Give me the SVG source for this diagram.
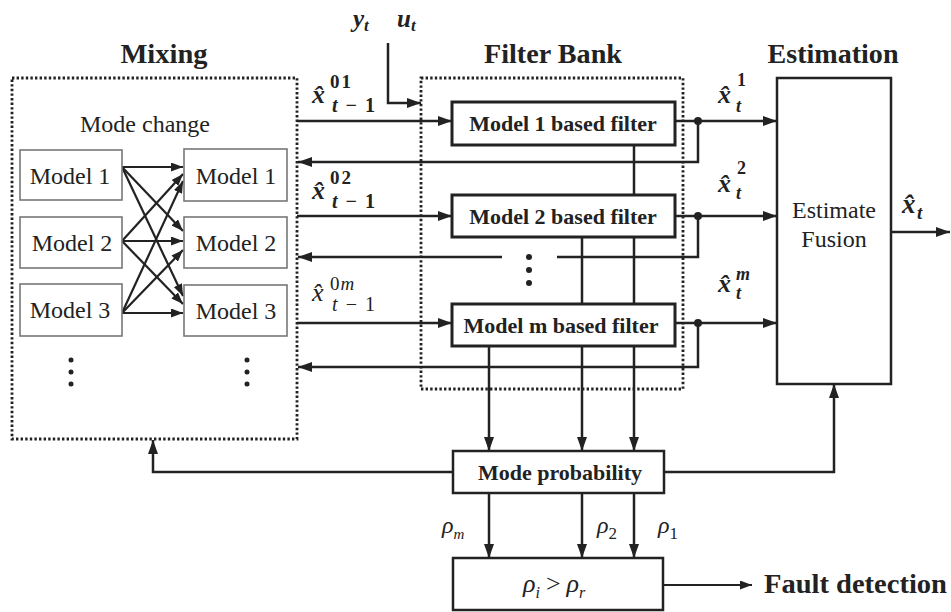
<svg xmlns="http://www.w3.org/2000/svg" width="951" height="612" viewBox="0 0 951 612">
<defs>
<style>
.ln{stroke:#222;stroke-width:2.5;fill:none}
.thin{stroke:#222;stroke-width:2.2;fill:none}
.dot{stroke:#222;stroke-width:2.8;fill:none;stroke-dasharray:2.4 2.2}
.mbox{fill:#fff;stroke:#777;stroke-width:1.6}
.fbox{fill:#fff;stroke:#222;stroke-width:3}
.bbox{fill:#fff;stroke:#222;stroke-width:2.5}
.t{font-family:'Liberation Serif','DejaVu Serif',serif;fill:#222}
.title{font-size:27px;font-weight:bold;text-anchor:middle}
.reg{font-size:24px}
.bold22{font-size:22px;font-weight:bold;text-anchor:middle}
.mi{font-style:italic}
.mb{font-style:italic;font-weight:bold}
.jd{fill:#222}
</style>
<marker id="ah" viewBox="0 0 14 10" refX="14" refY="5" markerWidth="14" markerHeight="10" markerUnits="userSpaceOnUse" orient="auto">
<path d="M0,0 L14,5 L0,10 z" fill="#222"/>
</marker>
<marker id="ahs" viewBox="0 0 12 9" refX="12" refY="4.5" markerWidth="12" markerHeight="9" markerUnits="userSpaceOnUse" orient="auto">
<path d="M0,0 L12,4.5 L0,9 z" fill="#222"/>
</marker>
</defs>
<rect width="951" height="612" fill="#fff"/>

<g id="mixing">
<rect class="dot" x="12" y="78" width="285" height="361"/>
<text class="t title" x="164" y="63" textLength="87" lengthAdjust="spacingAndGlyphs">Mixing</text>
<text class="t reg" x="80" y="132">Mode change</text>
</g>
<g id="filterbank">
<rect class="dot" x="421" y="78" width="262" height="311"/>
<text class="t title" x="553" y="63" textLength="138" lengthAdjust="spacingAndGlyphs">Filter Bank</text>
</g>
<text class="t title" x="833" y="63" textLength="131" lengthAdjust="spacingAndGlyphs">Estimation</text>

<g id="connectors">
<g class="thin" marker-end="url(#ahs)">
<line x1="122" y1="167" x2="183" y2="167"/>
<line x1="122" y1="167" x2="183" y2="231"/>
<line x1="122" y1="167" x2="183" y2="296"/>
<line x1="122" y1="241" x2="183" y2="174"/>
<line x1="122" y1="241" x2="183" y2="241"/>
<line x1="122" y1="241" x2="183" y2="304"/>
<line x1="122" y1="313" x2="183" y2="181"/>
<line x1="122" y1="313" x2="183" y2="250"/>
<line x1="122" y1="313" x2="183" y2="313"/>
</g>
<polyline class="ln" points="388,43 388,103 421,103" marker-end="url(#ah)"/>
<line class="ln" x1="297" y1="121" x2="452" y2="121" marker-end="url(#ah)"/>
<line class="ln" x1="297" y1="216" x2="452" y2="216" marker-end="url(#ah)"/>
<line class="ln" x1="297" y1="323" x2="452" y2="323" marker-end="url(#ah)"/>
<line class="ln" x1="675" y1="121" x2="777" y2="121" marker-end="url(#ah)"/>
<line class="ln" x1="675" y1="216" x2="777" y2="216" marker-end="url(#ah)"/>
<line class="ln" x1="675" y1="323" x2="777" y2="323" marker-end="url(#ah)"/>
<polyline class="ln" points="698,121 698,162 298,162" marker-end="url(#ah)"/>
<polyline class="ln" points="698,216 698,257 557,257"/>
<line class="ln" x1="502" y1="257" x2="298" y2="257" marker-end="url(#ah)"/>
<polyline class="ln" points="698,323 698,367 298,367" marker-end="url(#ah)"/>
<circle class="jd" cx="698" cy="121" r="4"/>
<circle class="jd" cx="698" cy="216" r="4"/>
<circle class="jd" cx="698" cy="323" r="4"/>
<line class="ln" x1="634" y1="145" x2="634" y2="451" marker-end="url(#ah)"/>
<line class="ln" x1="582" y1="237" x2="582" y2="451" marker-end="url(#ah)"/>
<line class="ln" x1="489" y1="346" x2="489" y2="451" marker-end="url(#ah)"/>
<polyline class="ln" points="453,472 153,472 153,440" marker-end="url(#ah)"/>
<polyline class="ln" points="664,472 834,472 834,384" marker-end="url(#ah)"/>
<line class="ln" x1="489" y1="493" x2="489" y2="558" marker-end="url(#ah)"/>
<line class="ln" x1="582" y1="493" x2="582" y2="558" marker-end="url(#ah)"/>
<line class="ln" x1="634" y1="493" x2="634" y2="558" marker-end="url(#ah)"/>
<line class="ln" x1="891" y1="232" x2="950" y2="232" marker-end="url(#ah)"/>
<line class="thin" x1="663" y1="585" x2="752" y2="585" marker-end="url(#ahs)"/>
</g>

<g class="jd">
<circle cx="71" cy="360" r="2.5"/><circle cx="71" cy="372" r="2.5"/><circle cx="71" cy="384" r="2.5"/>
<circle cx="247" cy="360" r="2.5"/><circle cx="247" cy="372" r="2.5"/><circle cx="247" cy="384" r="2.5"/>
<circle cx="529" cy="257" r="3"/><circle cx="529" cy="270" r="3"/><circle cx="529" cy="283" r="3"/>
</g>

<g id="mix-l1"><rect class="mbox" x="20" y="150" width="102" height="50"/><text class="t reg" x="70" y="184" text-anchor="middle">Model 1</text></g>
<g id="mix-l2"><rect class="mbox" x="20" y="217" width="102" height="51"/><text class="t reg" x="72" y="251" text-anchor="middle">Model 2</text></g>
<g id="mix-l3"><rect class="mbox" x="20" y="284" width="102" height="52"/><text class="t reg" x="70" y="318" text-anchor="middle">Model 3</text></g>
<g id="mix-r1"><rect class="mbox" x="184" y="149" width="103" height="52"/><text class="t reg" x="236" y="184" text-anchor="middle">Model 1</text></g>
<g id="mix-r2"><rect class="mbox" x="184" y="217" width="103" height="51"/><text class="t reg" x="236" y="251" text-anchor="middle">Model 2</text></g>
<g id="mix-r3"><rect class="mbox" x="184" y="285" width="103" height="51"/><text class="t reg" x="236" y="319" text-anchor="middle">Model 3</text></g>

<g id="filter1"><rect class="fbox" x="452" y="102" width="223" height="43"/><text class="t bold22" x="563" y="131">Model 1 based filter</text></g>
<g id="filter2"><rect class="fbox" x="452" y="195" width="223" height="42"/><text class="t bold22" x="563" y="224">Model 2 based filter</text></g>
<g id="filterm"><rect class="fbox" x="452" y="304" width="223" height="42"/><text class="t bold22" x="561" y="333">Model m based filter</text></g>

<g id="estimate">
<rect class="bbox" x="777" y="78" width="114" height="306"/>
<text class="t reg" x="834" y="218" text-anchor="middle">Estimate</text>
<text class="t reg" x="834" y="247" text-anchor="middle">Fusion</text>
</g>

<g id="modeprob">
<rect class="bbox" x="453" y="451" width="211" height="42"/>
<text class="t bold22" x="560" y="480">Mode probability</text>
</g>

<g id="threshold">
<rect class="bbox" x="453" y="558" width="210" height="52"/>
<text class="t mi" x="523" y="592" font-size="26">ρ<tspan font-size="16" dy="6">i</tspan><tspan font-style="normal" dy="-6" dx="6">&gt;</tspan><tspan dx="6">ρ</tspan><tspan font-size="16" dy="6">r</tspan></text>
</g>
<g id="fault">
<text class="t" x="764" y="593" font-size="27" font-weight="bold" textLength="183" lengthAdjust="spacingAndGlyphs">Fault detection</text>
</g>

<g id="labels">
<text class="t mb" x="353" y="27" font-size="25">y<tspan font-size="17" dy="4">t</tspan></text>
<text class="t mb" x="397" y="27" font-size="25">u<tspan font-size="17" dy="4">t</tspan></text>

<text class="t mb" x="312" y="103" font-size="26">x̂</text>
<text class="t" x="330" y="88" font-size="19" font-weight="bold" letter-spacing="2">01</text>
<text class="t mb" x="332" y="112" font-size="20" textLength="43" lengthAdjust="spacing">t<tspan font-style="normal">−1</tspan></text>

<text class="t mb" x="312" y="199" font-size="26">x̂</text>
<text class="t" x="330" y="184" font-size="19" font-weight="bold" letter-spacing="2">02</text>
<text class="t mb" x="332" y="208" font-size="20" textLength="43" lengthAdjust="spacing">t<tspan font-style="normal">−1</tspan></text>

<text class="t mi" x="312" y="301" font-size="26">x̂</text>
<text class="t" x="330" y="290" font-size="19" letter-spacing="1">0<tspan font-style="italic">m</tspan></text>
<text class="t mi" x="332" y="311" font-size="20" textLength="43" lengthAdjust="spacing">t<tspan font-style="normal">−1</tspan></text>

<text class="t mb" x="718" y="103" font-size="26">x̂</text>
<text class="t" x="737" y="86" font-size="18" font-weight="bold">1</text>
<text class="t mb" x="736" y="112" font-size="18">t</text>

<text class="t mb" x="718" y="192" font-size="26">x̂</text>
<text class="t" x="737" y="174" font-size="18" font-weight="bold">2</text>
<text class="t mb" x="736" y="199" font-size="18">t</text>

<text class="t mb" x="718" y="292" font-size="26">x̂</text>
<text class="t mb" x="736" y="280" font-size="18">m</text>
<text class="t mb" x="736" y="299" font-size="18">t</text>

<text class="t mb" x="902" y="213" font-size="27">x̂</text>
<text class="t mb" x="917" y="219" font-size="19">t</text>

<text class="t mi" x="442" y="533" font-size="24">ρ<tspan font-size="15" dy="6">m</tspan></text>
<text class="t mi" x="597" y="533" font-size="24">ρ<tspan font-size="17" dy="6" font-style="normal">2</tspan></text>
<text class="t mi" x="658" y="533" font-size="24">ρ<tspan font-size="17" dy="6" font-style="normal">1</tspan></text>
</g>
</svg>
